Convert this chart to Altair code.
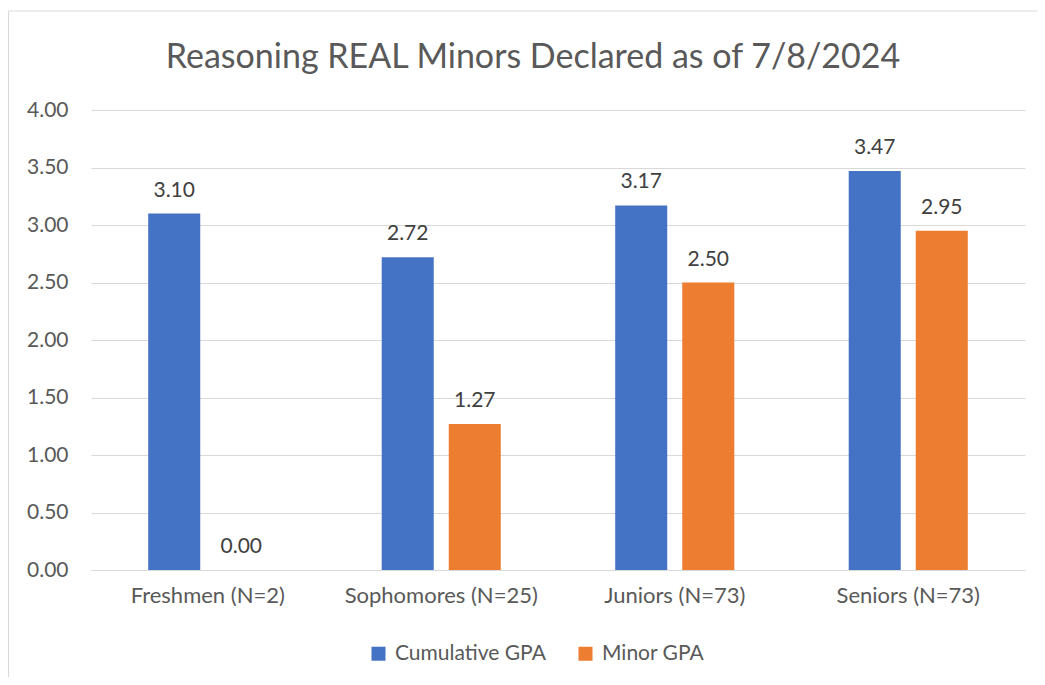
import altair as alt
import pandas as pd

categories = ["Freshmen (N=2)", "Sophomores (N=25)", "Juniors (N=73)", "Seniors (N=73)"]
series_names = ["Cumulative GPA", "Minor GPA"]
cumulative_gpa = [3.10, 2.72, 3.17, 3.47]
minor_gpa = [0.00, 1.27, 2.50, 2.95]
y_ticks = [0, 0.5, 1.0, 1.5, 2.0, 2.5, 3.0, 3.5, 4.0]
colors = ["#4472C4", "#ED7D31"]
title_text = ["Reasoning REAL Minors Declared as of 7/8/2024"]

rows = []
for c, a, b in zip(categories, cumulative_gpa, minor_gpa):
    rows.append({"cat": c, "series": series_names[0], "value": a, "label": f"{a:.2f}"})
    rows.append({"cat": c, "series": series_names[1], "value": b, "label": f"{b:.2f}"})
df = pd.DataFrame(rows)

FONT = "Lato"
GRAY = "#595959"

x_enc = alt.X(
    "cat:N", sort=categories,
    scale=alt.Scale(paddingInner=0.49, paddingOuter=0.245),
    axis=alt.Axis(title=None, labelAngle=0, labelFontSize=22, labelColor=GRAY,
                  labelFont=FONT, labelPadding=15, labelLimit=400, ticks=False,
                  domain=True, domainColor="#d9d9d9", domainWidth=1),
)
xoff_enc = alt.XOffset("series:N", sort=series_names, scale=alt.Scale(paddingInner=0.224))
y_enc = alt.Y(
    "value:Q",
    scale=alt.Scale(domain=[0, 4], nice=False),
    axis=alt.Axis(title=None, values=y_ticks, format=".2f", labelFontSize=21,
                  labelColor=GRAY, labelFont=FONT, labelPadding=23, ticks=False,
                  domain=False, grid=True, gridColor="#d9d9d9", gridWidth=1),
)

bars = alt.Chart(df).mark_bar().encode(
    x=x_enc, xOffset=xoff_enc, y=y_enc,
    color=alt.Color(
        "series:N", sort=series_names,
        scale=alt.Scale(domain=series_names, range=colors),
        legend=alt.Legend(title=None, orient="none", legendX=277, legendY=533,
                          direction="horizontal", symbolType="square",
                          symbolSize=196, symbolStrokeWidth=0, labelFontSize=21,
                          labelFont=FONT, labelColor=GRAY, labelOffset=6,
                          columnPadding=29),
    ),
)

labels = alt.Chart(df).mark_text(
    fontSize=21, font=FONT, color="#404040", baseline="alphabetic", dy=-17
).encode(x=x_enc, xOffset=xoff_enc, y=y_enc, text="label:N")

title_df = pd.DataFrame({"t": title_text})
title = alt.Chart(title_df).mark_text(
    fontSize=34, font=FONT, color=GRAY, baseline="alphabetic", align="center"
).encode(text="t:N", x=alt.value(442), y=alt.value(-42))

border_left = alt.Chart(title_df).mark_rule(color="#d9d9d9", strokeWidth=1).encode(
    x=alt.value(-82.5), y=alt.value(-99), y2=alt.value(700)
)
border_top = alt.Chart(title_df).mark_rule(color="#d9d9d9", strokeWidth=1).encode(
    x=alt.value(-82.5), x2=alt.value(1100), y=alt.value(-99)
)

chart = alt.layer(border_left, border_top, bars, labels, title).properties(
    width=934, height=460,
    autosize=alt.AutoSizeParams(type="none"),
    padding={"left": 83, "top": 102, "right": 12, "bottom": 107},
).configure_view(stroke=None)

chart.save("out.html", embed_options={"renderer": "svg", "actions": False})
